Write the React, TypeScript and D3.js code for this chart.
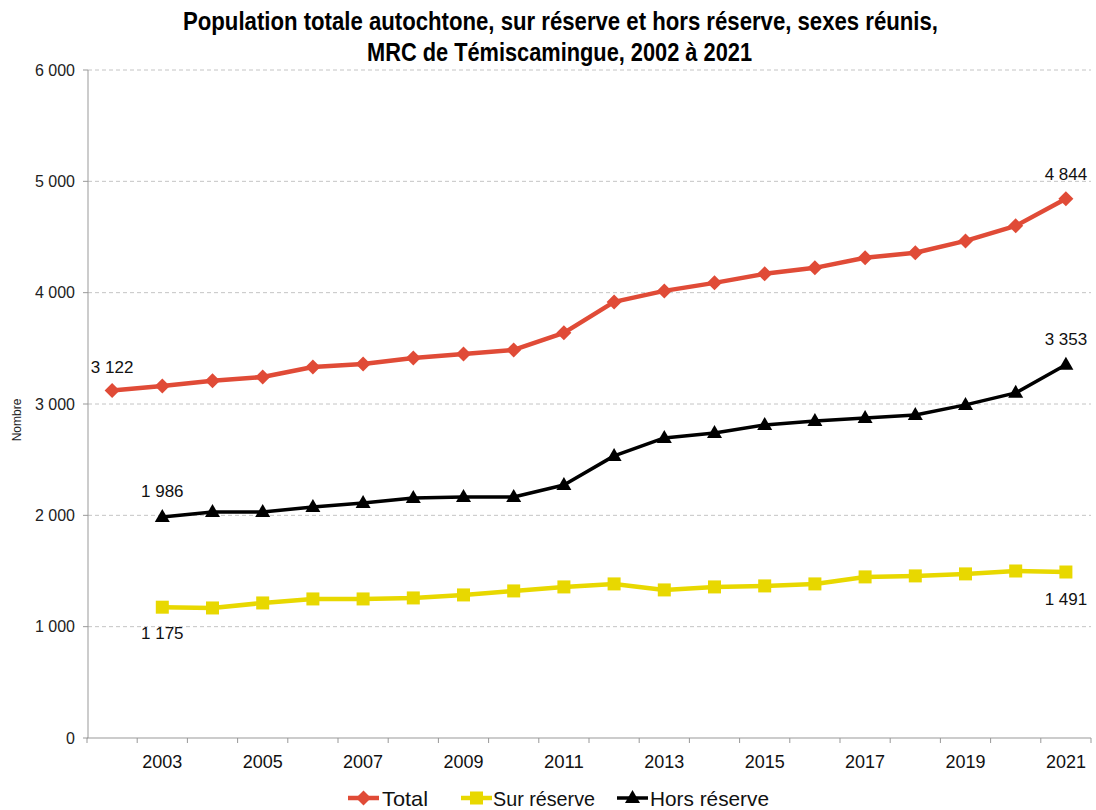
import React from "react";
import * as d3 from "d3";

const years = d3.range(2002, 2022).map(String);
const tickYears = ["2003","2005","2007","2009","2011","2013","2015","2017","2019","2021"];
const totalValues = [3122,3162,3208,3243,3333,3360,3414,3450,3486,3639,3917,4016,4088,4169,4223,4313,4358,4465,4600,4844];
const surValues = [null,1175,1168,1213,1249,1249,1258,1285,1321,1357,1384,1330,1357,1366,1384,1447,1456,1474,1500,1491];
const horsValues = [null,1986,2030,2030,2075,2111,2156,2165,2165,2273,2534,2695,2740,2812,2848,2875,2902,2992,3100,3353];
const yTicks = [0,1000,2000,3000,4000,5000,6000];
const seriesNames = ["Total","Sur réserve","Hors réserve"];
const colors = ["#E04B37","#E8D800","#000000"];

const W = 1096, H = 810;
const left = 88, right = 1091, top = 70, bottom = 738;
const x = d3.scaleBand().domain(years).range([left - 1, right]);
const y = d3.scaleLinear().domain([0, 6000]).range([bottom, top]);
const cx = (yr: string) => (x(yr) as number) + x.bandwidth() / 2;
const fmt = (v: number) => d3.format(",")(v).replace(/,/g, " ");
const narrow = "'Liberation Sans Narrow', 'Arial Narrow', 'Liberation Sans', sans-serif";
const sans = "'Liberation Sans', Arial, sans-serif";

function Marker({ kind, px, py, color }: { kind: number; px: number; py: number; color: string }) {
  if (kind === 0) {
    const s = 7.5;
    return <path d={`M${px},${py - s}L${px + s},${py}L${px},${py + s}L${px - s},${py}Z`} fill={color} />;
  }
  if (kind === 1) {
    return <rect x={px - 6.5} y={py - 6.5} width={13} height={13} fill={color} />;
  }
  return <path d={`M${px},${py - 8}L${px + 7.5},${py + 5}L${px - 7.5},${py + 5}Z`} fill={color} />;
}

export default function App() {
  const all = [totalValues, surValues, horsValues];
  const line = d3
    .line<[string, number | null]>()
    .defined((d) => d[1] != null)
    .x((d) => cx(d[0]))
    .y((d) => y(d[1] as number));
  const widths = [4.5, 4.5, 3.5];
  const labels: { v: number; yr: string; dy: number }[] = [
    { v: totalValues[0], yr: years[0], dy: -17 },
    { v: horsValues[1] as number, yr: years[1], dy: -20 },
    { v: surValues[1] as number, yr: years[1], dy: 32 },
    { v: totalValues[19], yr: years[19], dy: -19 },
    { v: horsValues[19] as number, yr: years[19], dy: -20 },
    { v: surValues[19] as number, yr: years[19], dy: 33 },
  ];
  const legendItems = [
    { lx: 348, tx: 382, tw: 46 },
    { lx: 461, tx: 493, tw: 102 },
    { lx: 617, tx: 650, tw: 119 },
  ];
  return (
    <svg width={W} height={H} style={{ position: "absolute", left: 0, top: 0, background: "#fff" }}>
      <rect width={W} height={H} fill="#fff" />
      <text x={183} y={30} textLength={755} lengthAdjust="spacingAndGlyphs" fontFamily={narrow} fontWeight="bold" fontSize={25}>
        Population totale autochtone, sur réserve et hors réserve, sexes réunis,
      </text>
      <text x={367} y={61} textLength={385} lengthAdjust="spacingAndGlyphs" fontFamily={narrow} fontWeight="bold" fontSize={25}>
        MRC de Témiscamingue, 2002 à 2021
      </text>
      {yTicks.filter((t) => t > 0).map((t) => (
        <line key={t} x1={left} x2={right} y1={y(t)} y2={y(t)} stroke="#c4c4c4" strokeWidth={1} strokeDasharray="4,3" />
      ))}
      {yTicks.map((t) => (
        <g key={"yt" + t}>
          <line x1={left - 5} x2={left} y1={y(t)} y2={y(t)} stroke="#999" />
          <text x={left - 13} y={y(t) + 5.5} textAnchor="end" fontFamily={sans} fontSize={16} fill="#222">
            {fmt(t)}
          </text>
        </g>
      ))}
      <line x1={left} x2={left} y1={top} y2={bottom} stroke="#999" />
      <line x1={left - 1} x2={right} y1={bottom} y2={bottom} stroke="#999" />
      {years.concat(["end"]).map((yr, i) => {
        const px = i < years.length ? (x(yr) as number) : right;
        return <line key={"xt" + i} x1={px} x2={px} y1={bottom} y2={bottom + 5} stroke="#999" />;
      })}
      {tickYears.map((yr) => (
        <text
          key={yr}
          x={cx(yr) - 20}
          y={768}
          textLength={40}
          lengthAdjust="spacingAndGlyphs"
          fontFamily={narrow}
          fontSize={19}
          fill="#111"
        >
          {yr}
        </text>
      ))}
      <text
        transform={`translate(21,420) rotate(-90)`}
        textAnchor="middle"
        fontFamily={sans}
        fontSize={12}
        fill="#222"
      >
        Nombre
      </text>
      {all.map((vals, si) => {
        const pts = years.map((yr, i) => [yr, vals[i]] as [string, number | null]);
        return (
          <g key={si}>
            <path d={line(pts) as string} fill="none" stroke={colors[si]} strokeWidth={widths[si]} strokeLinejoin="round" />
            {pts
              .filter((p) => p[1] != null)
              .map((p) => (
                <Marker key={p[0]} kind={si} px={cx(p[0])} py={y(p[1] as number)} color={colors[si]} />
              ))}
          </g>
        );
      })}
      {labels.map((l, i) => (
        <text key={i} x={cx(l.yr)} y={y(l.v) + l.dy} textAnchor="middle" fontFamily={sans} fontSize={17} fill="#111">
          {fmt(l.v)}
        </text>
      ))}
      {seriesNames.map((name, si) => {
        const it = legendItems[si];
        const ly = 798;
        return (
          <g key={name}>
            <line x1={it.lx} x2={it.lx + 31} y1={ly} y2={ly} stroke={colors[si]} strokeWidth={widths[si]} />
            <Marker kind={si} px={it.lx + 15.5} py={ly} color={colors[si]} />
            <text
              x={it.tx}
              y={ly + 8}
              textLength={it.tw}
              lengthAdjust="spacingAndGlyphs"
              fontFamily={narrow}
              fontSize={21}
              fill="#111"
            >
              {name}
            </text>
          </g>
        );
      })}
    </svg>
  );
}
